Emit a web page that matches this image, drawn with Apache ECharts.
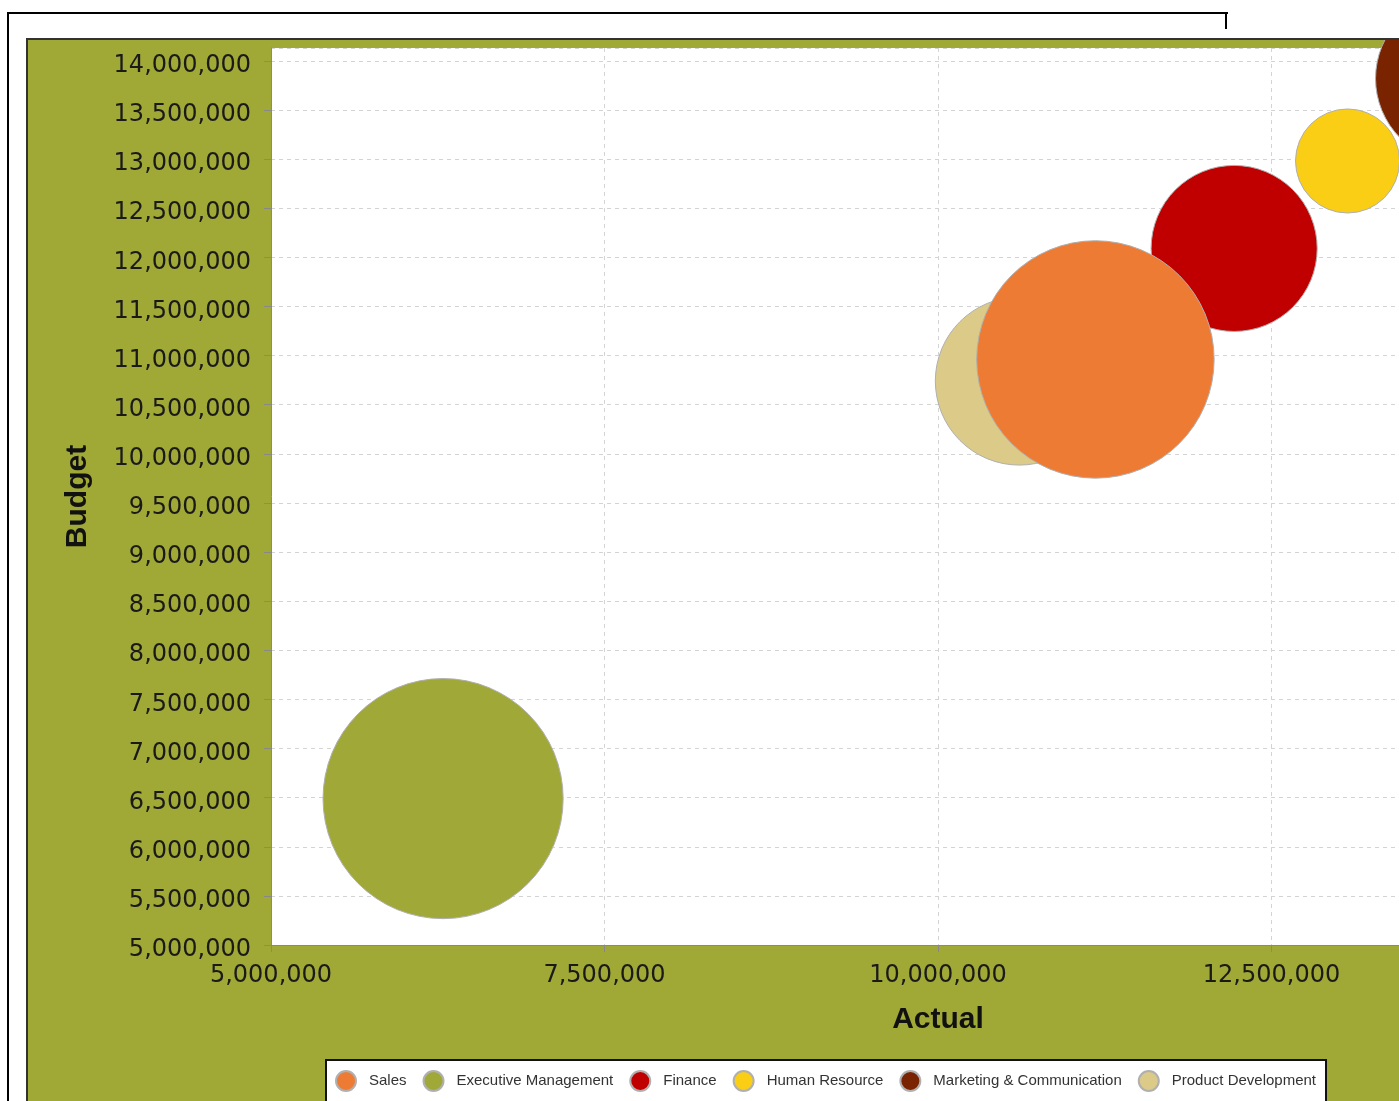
<!DOCTYPE html>
<html>
<head>
<meta charset="utf-8">
<script src="https://cdn.jsdelivr.net/npm/echarts@6/dist/echarts.min.js"></script>
<style>
  html, body { margin: 0; padding: 0; background: #fff; overflow: hidden; width: 1399px; height: 1101px; }
  #frame { position: absolute; left: 7px; top: 12px; width: 1219px; height: 1200px;
           border-top: 2px solid #000; border-left: 2px solid #000; }
  #frameRight { position: absolute; left: 1225px; top: 12px; width: 2px; height: 17px; background: #000; }
  #panel { position: absolute; left: 26px; top: 38px; width: 1600px; height: 1100px;
           border-top: 2px solid #333; border-left: 2px solid #333; background: #a0a836; }
  #chart { position: absolute; left: 0; top: 0; width: 1600px; height: 1100px; }
</style>
</head>
<body>
<div id="frame"></div>
<div id="frameRight"></div>
<div id="panel"><div id="chart"></div></div>
<script>
// departments, legend order
var departments = ['Sales', 'Executive Management', 'Finance', 'Human Resource', 'Marketing & Communication', 'Product Development'];
var actual = [11180000, 6290000, 12220000, 13070000, 13910000, 10610000];
var budget = [10960000, 6490000, 12090000, 12980000, 13820000, 10740000];
var bubbleSize = [1780000, 1800000, 1245000, 780000, 1260000, 1260000];
var colors = ['#ed7b34', '#a0a838', '#c00000', '#f9ce15', '#7a2300', '#dbca88'];

// bubble diameter in px per data unit (scaled on the domain axis)
var SIZE_SCALE = 1334 / 1e7;

var fmt = function (v) { return v.toLocaleString('en-US'); };

var series = departments.map(function (name, i) {
  return {
    name: name,
    type: 'scatter',
    data: [[actual[i], budget[i], bubbleSize[i]]],
    symbolSize: function (v) { return v[2] * SIZE_SCALE; },
    itemStyle: { color: colors[i], borderColor: '#b0b0b0', borderWidth: 1, opacity: 1 },
    emphasis: { disabled: true }
  };
}).reverse(); // first series drawn on top

var chart = echarts.init(document.getElementById('chart'));
chart.setOption({
  animation: false,
  backgroundColor: 'transparent',
  grid: {
    left: 243, top: 8, width: 1334, height: 897,
    outerBoundsMode: 'none', containLabel: false,
    show: true, backgroundColor: '#fff', borderWidth: 0
  },
  xAxis: {
    type: 'value',
    min: 5000000, max: 15000000, interval: 2500000,
    name: 'Actual', nameLocation: 'middle', nameGap: 60,
    nameTextStyle: { fontFamily: 'Liberation Sans', fontWeight: 'bold', fontSize: 30, color: '#111' },
    axisLine: { show: true, lineStyle: { color: '#888', width: 1 } },
    axisTick: { show: true, length: 7, lineStyle: { color: '#888' } },
    axisLabel: { formatter: fmt, margin: 19, fontFamily: 'DejaVu Sans', fontSize: 24, color: '#1a1a1a' },
    splitLine: { show: true, lineStyle: { color: '#d4d4d4', type: [4, 4] } }
  },
  yAxis: {
    type: 'value',
    min: 5000000, max: 14130000, interval: 500000,
    name: 'Budget', nameLocation: 'middle', nameGap: 178,
    nameTextStyle: { fontFamily: 'Liberation Sans', fontWeight: 'bold', fontSize: 30, color: '#111' },
    axisLine: { show: true, lineStyle: { color: '#888', width: 1 } },
    axisTick: { show: true, length: 7, lineStyle: { color: '#888' } },
    axisLabel: {
      formatter: function (v) { return '{v|' + fmt(v) + '}'; },
      margin: 20, showMaxLabel: false,
      rich: { v: { padding: [10, 0, 0, 0], fontFamily: 'DejaVu Sans', fontSize: 24, color: '#1a1a1a' } }
    },
    splitLine: { show: true, lineStyle: { color: '#d4d4d4', type: [4, 4] } }
  },
  legend: {
    data: departments,
    left: 298, top: 1020,
    orient: 'horizontal',
    backgroundColor: '#fff',
    borderColor: '#111', borderWidth: 2,
    padding: [10, 10, 12, 9],
    itemWidth: 20, itemHeight: 20, itemGap: 16,
    icon: 'circle',
    selectedMode: false,
    textStyle: { fontFamily: 'Liberation Sans', fontSize: 15, color: '#333', padding: [0, 0, 0, 8] }
  },
  series: series
});
</script>
</body>
</html>
